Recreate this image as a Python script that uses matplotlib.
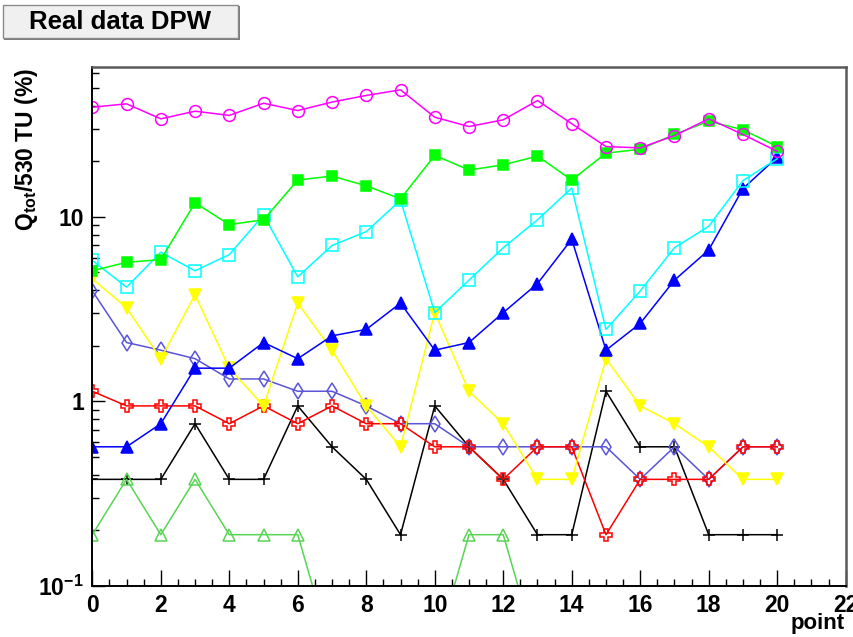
import numpy as np
import matplotlib
matplotlib.use("Agg")
import matplotlib.pyplot as plt
from matplotlib.patches import Rectangle
from matplotlib.ticker import FixedLocator, FixedFormatter, LogLocator, NullFormatter, MultipleLocator

plt.rcParams['font.family'] = ['Liberation Sans', 'DejaVu Sans']
plt.rcParams['font.weight'] = 'bold'
plt.rcParams['mathtext.fontset'] = 'custom'
plt.rcParams['mathtext.rm'] = 'Liberation Sans:bold'
plt.rcParams['mathtext.it'] = 'Liberation Sans:bold'
plt.rcParams['mathtext.bf'] = 'Liberation Sans:bold'
plt.rcParams['mathtext.default'] = 'rm'

# ---- data: charge fraction per point (%) ----
points = np.arange(21)

magenta_circles = [39.2, 40.9, 33.9, 37.3, 35.4, 41.2, 37.6, 41.8, 45.4, 48.7, 34.6,
                   30.8, 33.5, 42.6, 31.9, 24.0, 23.6, 27.5, 33.9, 27.9, 22.6]
green_squares = [5.09, 5.66, 5.85, 11.9, 9.06, 9.62, 15.8, 16.6, 14.7, 12.5, 21.5,
                 17.9, 19.1, 21.3, 15.8, 22.1, 23.2, 27.9, 32.9, 29.6, 24.0]
cyan_squares = [5.79, 4.15, 6.42, 5.09, 6.23, 10.2, 4.72, 6.98, 8.30, 12.3, 3.02,
                4.53, 6.79, 9.62, 14.3, 2.45, 3.96, 6.79, 8.87, 15.7, 20.6]
blue_triangles = [0.566, 0.566, 0.755, 1.51, 1.51, 2.08, 1.70, 2.26, 2.45, 3.40, 1.89,
                  2.08, 3.02, 4.34, 7.55, 1.89, 2.64, 4.53, 6.60, 14.2, 21.0]
yellow_triangles = [4.6, 3.21, 1.70, 3.77, 1.51, 0.943, 3.40, 1.89, 0.943, 0.566, 3.02,
                    1.132, 0.755, 0.377, 0.377, 1.70, 0.943, 0.755, 0.566, 0.377, 0.377]
violet_diamonds = [3.96, 2.08, 1.89, 1.70, 1.32, 1.32, 1.132, 1.132, 0.943, 0.755, 0.755,
                   0.566, 0.566, 0.566, 0.566, 0.566, 0.377, 0.566, 0.377, 0.566, 0.566]
red_crosses = [1.132, 0.943, 0.943, 0.943, 0.755, 0.943, 0.755, 0.943, 0.755, 0.755, 0.566,
               0.566, 0.377, 0.566, 0.566, 0.189, 0.377, 0.377, 0.377, 0.566, 0.566]
black_plus = [0.377, 0.377, 0.377, 0.755, 0.377, 0.377, 0.943, 0.566, 0.377, 0.189, 0.943,
              0.566, 0.377, 0.189, 0.189, 1.132, 0.566, 0.566, 0.189, 0.189, 0.189]
lightgreen_triangles = [0.189, 0.377, 0.189, 0.377, 0.189, 0.189, 0.189, 0, 0, 0, 0,
                        0.189, 0.189, 0, 0, 0, 0, 0, 0, 0, 0]

# zero entries are shown below the visible log range
ZERO_FLOOR = 0.043

x_ticks = [0, 2, 4, 6, 8, 10, 12, 14, 16, 18, 20, 22]
y_ticks = [0.1, 1, 10]
y_tick_labels = [r'$10^{-1}$', '1', '10']

W, H = 854, 637
fig = plt.figure(figsize=(W / 100, H / 100), dpi=100)
ax_left, ax_right, ax_top, ax_bottom = 92.3, 845.7, 66.7, 585.7
ax = fig.add_axes([ax_left / W, 1 - ax_bottom / H, (ax_right - ax_left) / W,
                   (ax_bottom - ax_top) / H])

series = [
    (black_plus, 'black', '+', 'black', 9),
    (lightgreen_triangles, '#59d454', '^', 'none', 8),
    (violet_diamonds, '#5954d9', 'd', 'none', 8),
    (red_crosses, '#ff0000', 'P', 'none', 9),
    (yellow_triangles, '#ffff00', 'v', '#ffff00', 8),
    (blue_triangles, '#0000ff', '^', '#0000ff', 8),
    (cyan_squares, '#00ffff', 's', 'none', 8),
    (green_squares, '#00ff00', 's', '#00ff00', 7.5),
    (magenta_circles, '#ff00ff', 'o', 'none', 8.5),
]
for vals, col, mk, fc, ms in series:
    v = np.asarray(vals, dtype=float)
    v = np.where(v > 0, v, ZERO_FLOOR)
    ax.plot(points, v, color=col, lw=1.1, marker=mk, markersize=ms,
            markerfacecolor=fc, markeredgecolor=col, markeredgewidth=1.1)

ax.set_yscale('log')
ax.set_xlim(0, 22)
ax.set_ylim(0.1, 65.0)

ax.xaxis.set_major_locator(FixedLocator(x_ticks))
ax.xaxis.set_minor_locator(MultipleLocator(0.5))
ax.yaxis.set_major_locator(FixedLocator(y_ticks))
ax.yaxis.set_major_formatter(FixedFormatter(y_tick_labels))
ax.yaxis.set_minor_locator(LogLocator(base=10, subs=np.arange(2, 10)))
ax.yaxis.set_minor_formatter(NullFormatter())

ax.tick_params(axis='x', which='major', direction='in', length=11.5, width=1.0,
               labelsize=16.5, pad=6, top=False)
ax.tick_params(axis='x', which='minor', direction='in', length=5, width=1.0, top=False)
ax.tick_params(axis='y', which='major', direction='in', length=9, width=1.0,
               labelsize=16.5, pad=6, right=False)
ax.tick_params(axis='y', which='minor', direction='in', length=5, width=1.0, right=False)
for lbl in ax.get_xticklabels() + ax.get_yticklabels():
    lbl.set_fontweight('bold')

for side in ('left', 'bottom'):
    ax.spines[side].set_color('black')
    ax.spines[side].set_linewidth(1.4)
for side in ('top', 'right'):
    ax.spines[side].set_color('#5a5a5a')
    ax.spines[side].set_linewidth(1.8)

# axis titles
fig.text(845 / W, 1 - 624 / H, 'point', ha='right', va='center',
         fontsize=16, fontweight='bold')
fig.text(27 / W, 1 - 68 / H, r'Q$_{tot}$/530 TU (%)', rotation=90,
         ha='center', va='top', fontsize=16.5, fontweight='bold')

# title box
fig.patches.append(Rectangle((4.5 / W, 1 - 40 / H), 236 / W, 34 / H,
                             transform=fig.transFigure, facecolor='#7a7a7a',
                             edgecolor='none', zorder=1))
fig.patches.append(Rectangle((2.5 / W, 1 - 38 / H), 236 / W, 33 / H,
                             transform=fig.transFigure, facecolor='#f0f0f0',
                             edgecolor='#8a8a8a', linewidth=1.0, zorder=2))
fig.text(120 / W, 1 - 22 / H, 'Real data DPW', ha='center', va='center',
         fontsize=18.5, fontweight='bold', zorder=3)

fig.savefig('out.png', dpi=100)
